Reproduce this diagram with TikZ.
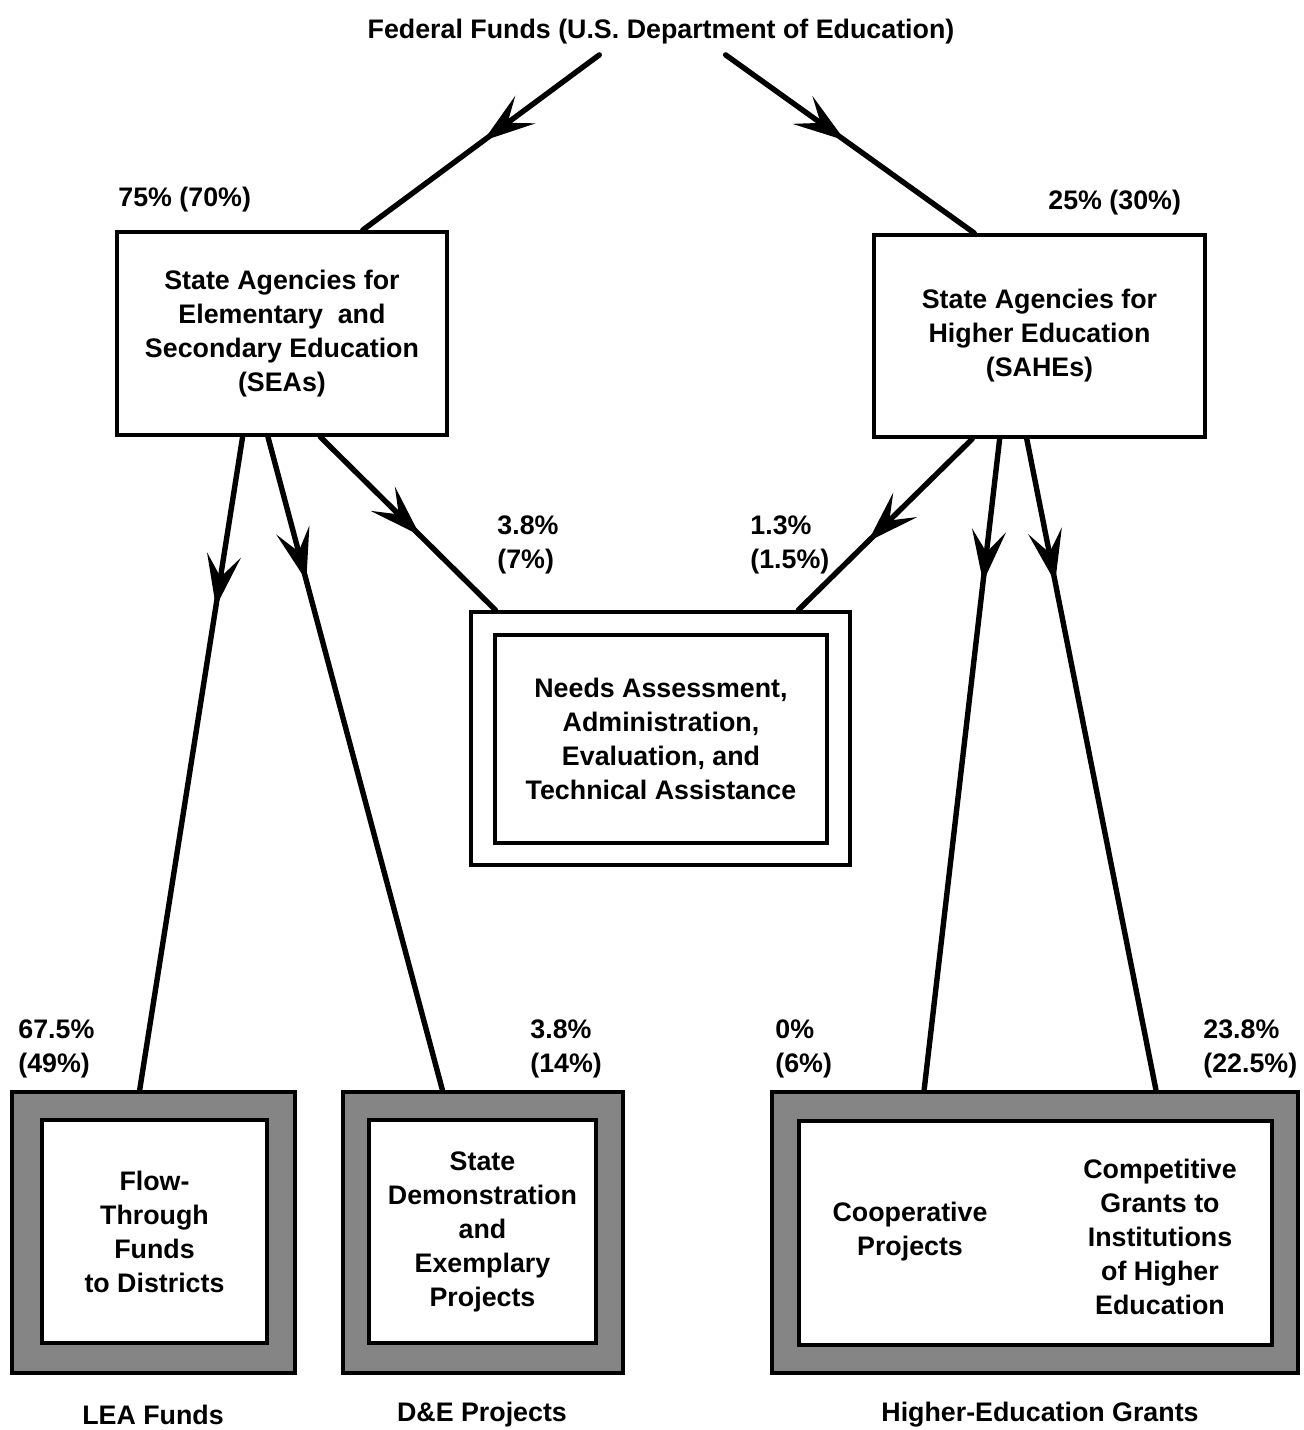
\documentclass[tikz,border=0pt]{standalone}
\usepackage{fontspec}
\newfontfamily\diag{Liberation Sans Bold}
\usetikzlibrary{arrows.meta,decorations.markings,calc}
\begin{document}
\begin{tikzpicture}[x=0.5pt,y=-0.5pt,
  >={Stealth[length=26pt,width=17pt,inset=11pt]},
  every node/.style={font=\diag\fontsize{13.4}{17}\selectfont, inner sep=0pt},
  txt/.style={align=center},
  plainbox/.style={draw, line width=2pt, align=center},
  frame/.style={draw, line width=2.2pt, fill=black!48},
  innerbox/.style={draw, line width=2pt, fill=white, align=center},
  flow/.style={line width=2.7pt, line cap=round},
  midarrow/.style={decoration={markings, mark=at position #1 with {\arrow{>}}}, postaction={decorate}}
]
\useasboundingbox (0,0) rectangle (1303,1430);

% title
\node[txt] (fed) at (661,32) {Federal Funds (U.S. Department of Education)};

% state agencies
\node[plainbox, minimum width=165pt, minimum height=101.5pt] (sea) at (282,333.5)
  {State Agencies for\\Elementary~ and\\Secondary Education\\(SEAs)};
\node[plainbox, minimum width=165.5pt, minimum height=101pt] (sahe) at (1039.5,336)
  {State Agencies for\\Higher Education\\(SAHEs)};

% needs assessment (double box)
\node[plainbox, minimum width=189.5pt, minimum height=126.5pt] (needs) at (660.5,738.5) {};
\node[plainbox, minimum width=166pt, minimum height=104pt] (needsin) at (661,739)
  {Needs Assessment,\\Administration,\\Evaluation, and\\Technical Assistance};

% bottom framed boxes
\node[frame, minimum width=141.5pt, minimum height=140.5pt] (lea) at (153.5,1232.5) {};
\node[innerbox, minimum width=112.5pt, minimum height=111.5pt] (leain) at (154.5,1231.5)
  {Flow-\\Through\\Funds\\to Districts};
\node[frame, minimum width=140pt, minimum height=140.5pt] (de) at (483,1232.5) {};
\node[innerbox, minimum width=113.5pt, minimum height=111.5pt] (dein) at (482.5,1231.5)
  {State\\Demonstration\\and\\Exemplary\\Projects};
\node[frame, minimum width=263pt, minimum height=140.5pt] (he) at (1035,1232.5) {};
\node[innerbox, minimum width=236.5pt, minimum height=112pt] (hein) at (1035.5,1233) {};
\node[txt] (coop) at (910,1232) {Cooperative\\Projects};
\node[txt] (comp) at (1160,1237) {Competitive\\Grants to\\Institutions\\of Higher\\Education};

% percentage labels
\node[anchor=west] (p75) at (118,200) {75\% (70\%)};
\node[anchor=west] (p25) at (1048,203) {25\% (30\%)};
\node[align=left, anchor=west] (p38a) at (497,545) {3.8\%\\(7\%)};
\node[align=left, anchor=west] (p13) at (750,545) {1.3\%\\(1.5\%)};
\node[align=left, anchor=west] (p675) at (18,1049) {67.5\%\\(49\%)};
\node[align=left, anchor=west] (p38b) at (530,1049) {3.8\%\\(14\%)};
\node[align=left, anchor=west] (p0) at (775,1049) {0\%\\(6\%)};
\node[align=left, anchor=west] (p238) at (1203,1049) {23.8\%\\(22.5\%)};

% bottom captions
\node (lealab) at (153,1415) {LEA Funds};
\node (delab) at (482,1415) {D\&E Projects};
\node (helab) at (1040,1415) {Higher-Education Grants};

% connectors
\draw[flow, midarrow=0.49] ($(fed.south west)!0.395!(fed.south east)+(0,10)$) -- ($(sea.north west)!0.742!(sea.north east)$);
\draw[flow, midarrow=0.48] ($(fed.south west)!0.61!(fed.south east)+(0,10)$) -- ($(sahe.north west)!0.305!(sahe.north east)$);

\draw[flow, midarrow=0.26] ($(sea.south west)!0.382!(sea.south east)$) -- ($(lea.north west)!0.452!(lea.north east)$);
\draw[flow, midarrow=0.22] ($(sea.south west)!0.458!(sea.south east)$) -- ($(de.north west)!0.357!(de.north east)$);
\draw[flow, midarrow=0.57] ($(sea.south west)!0.615!(sea.south east)$) -- ($(needs.north west)!0.069!(needs.north east)$);

\draw[flow, midarrow=0.6] ($(sahe.south west)!0.299!(sahe.south east)$) -- ($(needs.north west)!0.86!(needs.north east)$);
\draw[flow, midarrow=0.22] ($(sahe.south west)!0.381!(sahe.south east)$) -- ($(he.north west)!0.291!(he.north east)$);
\draw[flow, midarrow=0.22] ($(sahe.south west)!0.462!(sahe.south east)$) -- ($(he.north west)!0.728!(he.north east)$);
\end{tikzpicture}
\end{document}
